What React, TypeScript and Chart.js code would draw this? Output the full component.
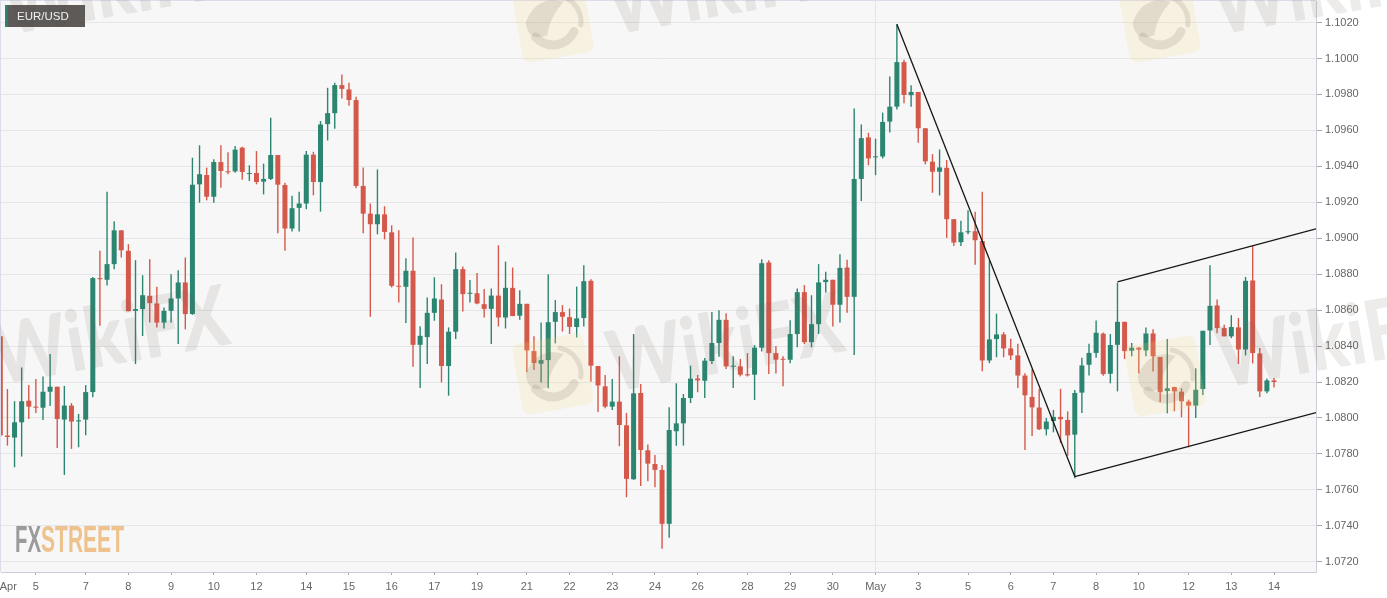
import React, { useEffect, useRef } from "react";
import { Chart, registerables } from "chart.js";

Chart.register(...registerables);

const opens = [
  1.08454,1.07902,1.07891,1.07976,1.08096,1.08063,1.08057,1.08146,1.08174,1.07991,
  1.08069,1.07981,1.07991,1.08144,1.08778,1.08769,1.08856,1.09044,1.08930,1.08596,
  1.08606,1.08680,1.08637,1.08531,1.08596,1.08665,1.08754,1.08578,1.09300,1.09352,
  1.09231,1.09424,1.09372,1.09372,1.09504,1.09357,1.09363,1.09315,1.09330,1.09463,
  1.09296,1.09054,1.09169,1.09193,1.09465,1.09313,1.09635,1.09696,1.09852,1.09828,
  1.09769,1.09291,1.09137,1.09078,1.09133,1.09033,1.08735,1.08730,1.08819,1.08407,
  1.08450,1.08585,1.08659,1.08289,1.08480,1.08828,1.08691,1.08694,1.08633,1.08607,
  1.08681,1.08559,1.08724,1.08569,1.08635,1.08372,1.08302,1.08322,1.08535,1.08589,
  1.08561,1.08506,1.08556,1.08763,1.08289,1.08176,1.08063,1.08091,1.07959,1.07659,
  1.08139,1.07820,1.07744,1.07711,1.07411,1.07926,1.07970,1.08111,1.08220,1.08207,
  1.08317,1.08417,1.08546,1.08285,1.08287,1.08243,1.08241,1.08391,1.08865,1.08361,
  1.08328,1.08324,1.08467,1.08700,1.08422,1.08522,1.08756,1.08769,1.08630,1.08837,
  1.08674,1.09330,1.09561,1.09450,1.09455,1.09649,1.09732,1.09980,1.09796,1.09814,
  1.09612,1.09426,1.09370,1.09392,1.09106,1.08978,1.09033,1.09039,1.08985,1.08320,
  1.08439,1.08465,1.08387,1.08348,1.08236,1.08117,1.08058,1.07937,1.07983,1.08006,
  1.07989,1.07907,1.08141,1.08296,1.08362,1.08469,1.08246,1.08407,1.08535,1.08374,
  1.08391,1.08376,1.08470,1.08339,1.08150,1.08172,1.08146,1.08091,1.08069,1.08161,
  1.08487,1.08626,1.08500,1.08454,1.08504,1.08381,1.08765,1.08359,1.08148,1.08209,
];

const closes = [
  1.07902,1.07894,1.07976,1.08093,1.08063,1.08057,1.08146,1.08174,1.07994,1.08069,
  1.07980,1.07987,1.08144,1.08778,1.08772,1.08856,1.09044,1.08933,1.08594,1.08606,
  1.08683,1.08639,1.08531,1.08596,1.08665,1.08754,1.08578,1.09298,1.09356,1.09231,
  1.09424,1.09374,1.09367,1.09493,1.09369,1.09361,1.09313,1.09330,1.09463,1.09298,
  1.09054,1.09167,1.09193,1.09465,1.09313,1.09633,1.09696,1.09852,1.09831,1.09769,
  1.09291,1.09137,1.09078,1.09133,1.09035,1.08735,1.08730,1.08819,1.08407,1.08457,
  1.08585,1.08665,1.08289,1.08480,1.08828,1.08689,1.08696,1.08637,1.08607,1.08681,
  1.08559,1.08724,1.08567,1.08635,1.08376,1.08306,1.08322,1.08533,1.08589,1.08563,
  1.08507,1.08554,1.08761,1.08291,1.08181,1.08063,1.08091,1.07961,1.07661,1.08137,
  1.07822,1.07746,1.07711,1.07411,1.07933,1.07970,1.08111,1.08219,1.08209,1.08319,
  1.08417,1.08546,1.08287,1.08291,1.08241,1.08237,1.08391,1.08861,1.08361,1.08324,
  1.08324,1.08467,1.08700,1.08422,1.08522,1.08754,1.08769,1.08630,1.08835,1.08674,
  1.09330,1.09557,1.09444,1.09455,1.09647,1.09732,1.09980,1.09797,1.09814,1.09612,
  1.09428,1.09370,1.09394,1.09106,1.08976,1.09033,1.09039,1.08989,1.08320,1.08437,
  1.08465,1.08387,1.08348,1.08236,1.08126,1.08059,1.07937,1.07980,1.08006,1.07993,
  1.07903,1.08139,1.08292,1.08362,1.08474,1.08244,1.08406,1.08535,1.08372,1.08391,
  1.08380,1.08470,1.08343,1.08143,1.08165,1.08148,1.08093,1.08069,1.08157,1.08485,
  1.08624,1.08500,1.08454,1.08506,1.08381,1.08763,1.08361,1.08148,1.08209,1.08200,
];

const highs = [
  1.08513,1.08161,1.08093,1.08281,1.08183,1.08217,1.08231,1.08356,1.08174,1.08178,
  1.08083,1.08022,1.08183,1.08785,1.08930,1.09259,1.09094,1.09044,1.08967,1.08878,
  1.08794,1.08883,1.08730,1.08615,1.08800,1.08822,1.08893,1.09448,1.09517,1.09393,
  1.09439,1.09517,1.09478,1.09513,1.09509,1.09406,1.09485,1.09415,1.09670,1.09463,
  1.09309,1.09237,1.09259,1.09485,1.09481,1.09652,1.09837,1.09865,1.09911,1.09865,
  1.09787,1.09393,1.09193,1.09383,1.09178,1.09072,1.09044,1.08889,1.09004,1.08511,
  1.08670,1.08783,1.08744,1.08504,1.08920,1.08843,1.08767,1.08806,1.08717,1.08720,
  1.08961,1.08870,1.08837,1.08711,1.08635,1.08454,1.08531,1.08800,1.08656,1.08628,
  1.08609,1.08731,1.08850,1.08772,1.08289,1.08239,1.08217,1.08343,1.08028,1.08467,
  1.08189,1.07852,1.07794,1.07739,1.08059,1.08193,1.08133,1.08291,1.08239,1.08333,
  1.08589,1.08600,1.08583,1.08343,1.08328,1.08361,1.08406,1.08883,1.08878,1.08400,
  1.08343,1.08544,1.08720,1.08739,1.08683,1.08856,1.08813,1.08769,1.08911,1.08881,
  1.09722,1.09633,1.09587,1.09554,1.09699,1.09900,1.10191,1.09993,1.09851,1.09814,
  1.09612,1.09468,1.09494,1.09435,1.09106,1.09097,1.09156,1.09147,1.09258,1.08877,
  1.08580,1.08478,1.08441,1.08413,1.08249,1.08273,1.08162,1.08000,1.08045,1.08162,
  1.08037,1.08156,1.08335,1.08413,1.08543,1.08476,1.08467,1.08752,1.08535,1.08417,
  1.08393,1.08504,1.08494,1.08339,1.08439,1.08174,1.08165,1.08102,1.08276,1.08485,
  1.08850,1.08659,1.08519,1.08572,1.08556,1.08785,1.08957,1.08389,1.08219,1.08222,
];

const lows = [
  1.07874,1.07846,1.07726,1.07785,1.07994,1.08028,1.07989,1.08067,1.07833,1.07683,
  1.07828,1.07837,1.07904,1.08115,1.08513,1.08737,1.08828,1.08893,1.08594,1.08300,
  1.08456,1.08531,1.08504,1.08498,1.08531,1.08411,1.08493,1.08574,1.09198,1.09211,
  1.09198,1.09281,1.09356,1.09365,1.09326,1.09319,1.09300,1.09244,1.09324,1.09028,
  1.08930,1.09037,1.09037,1.09161,1.09239,1.09148,1.09544,1.09609,1.09778,1.09737,
  1.09278,1.09028,1.08563,1.09022,1.08994,1.08726,1.08643,1.08528,1.08285,1.08167,
  1.08300,1.08541,1.08198,1.08124,1.08439,1.08593,1.08643,1.08633,1.08559,1.08411,
  1.08509,1.08498,1.08567,1.08546,1.08254,1.08267,1.08198,1.08165,1.08415,1.08481,
  1.08467,1.08448,1.08509,1.08202,1.08033,1.08054,1.08044,1.07843,1.07559,1.07656,
  1.07622,1.07648,1.07615,1.07272,1.07333,1.07846,1.07846,1.08083,1.08143,1.08111,
  1.08300,1.08341,1.08272,1.08167,1.08231,1.08231,1.08100,1.08370,1.08244,1.08248,
  1.08176,1.08304,1.08393,1.08411,1.08393,1.08467,1.08698,1.08509,1.08531,1.08585,
  1.08350,1.09207,1.09406,1.09351,1.09444,1.09589,1.09717,1.09751,1.09732,1.09532,
  1.09411,1.09253,1.09238,1.09002,1.08957,1.08957,1.09022,1.08853,1.08260,1.08305,
  1.08338,1.08338,1.08323,1.08167,1.07822,1.07900,1.07933,1.07903,1.07920,1.07861,
  1.07790,1.07665,1.08028,1.08236,1.08335,1.08235,1.08193,1.08148,1.08328,1.08344,
  1.08248,1.08344,1.08259,1.08087,1.08026,1.08037,1.08004,1.07837,1.08000,1.08128,
  1.08406,1.08472,1.08454,1.08444,1.08300,1.08348,1.08304,1.08117,1.08137,1.08170,
];

const tickLabels = ["Apr","5","7","8","9","10","12","14","15","16","17","19","21","22","23","24","26","28","29","30","May","3","5","6","7","8","10","12","13","14"];
const tickCandles = [1.13,5,12,18,24,30,36,43,49,55,61,67,74,80,86,92,98,105,111,117,123,129,136,142,148,154,160,167,173,179];
const priceTicks = [1.072,1.074,1.076,1.078,1.08,1.082,1.084,1.086,1.088,1.09,1.092,1.094,1.096,1.098,1.1,1.102];

const downTrend = [{ x: 126, y: 1.10191 }, { x: 151, y: 1.07674 }];
const channelLow = [{ x: 151, y: 1.07674 }, { x: 184.9, y: 1.0803 }];
const channelHigh = [{ x: 157, y: 1.08757 }, { x: 184.9, y: 1.09052 }];

const symbol = "EUR/USD";
const UP = "#2b8570";
const DOWN = "#d4594a";

const FONT = '"Liberation Sans", Arial, sans-serif';

function watermark(ctx: CanvasRenderingContext2D, x: number, y: number) {
  ctx.save();
  ctx.translate(x, y);
  ctx.rotate((-10 * Math.PI) / 180);
  ctx.font = `900 84px Lato, "Noto Sans", sans-serif`;
  ctx.fillStyle = "rgba(110,95,90,0.12)";
  ctx.textBaseline = "alphabetic";
  ctx.textAlign = "left";
  ctx.fillText("WikiFX", 0, 0, 238);
  ctx.restore();
}

function logoMark(ctx: CanvasRenderingContext2D, cx: number, cy: number) {
  ctx.save();
  ctx.translate(cx, cy);
  ctx.rotate((-10 * Math.PI) / 180);
  ctx.fillStyle = "rgba(250,215,120,0.18)";
  ctx.beginPath();
  ctx.roundRect(-36, -36, 72, 72, 8);
  ctx.fill();
  ctx.strokeStyle = "rgba(110,95,90,0.15)";
  ctx.lineCap = "round";
  ctx.lineWidth = 9;
  ctx.beginPath();
  ctx.arc(0, 0, 23, 0.6, 2.6);
  ctx.stroke();
  ctx.lineWidth = 5;
  ctx.beginPath();
  ctx.arc(2, 0, 26, -1.2, 0.3);
  ctx.stroke();
  ctx.fillStyle = "rgba(110,95,90,0.15)";
  ctx.beginPath();
  ctx.moveTo(-27, -4);
  ctx.quadraticCurveTo(-12, -30, 14, -18);
  ctx.quadraticCurveTo(-2, -6, -8, 12);
  ctx.quadraticCurveTo(-28, 16, -27, -4);
  ctx.fill();
  ctx.restore();
}

const decor = {
  id: "decor",
  beforeDraw(chart: any) {
    const { ctx, chartArea: a } = chart;
    ctx.save();
    ctx.fillStyle = "#f7f7f8";
    ctx.fillRect(a.left, a.top, a.right - a.left, a.bottom - a.top);
    ctx.fillStyle = "#dcdcec";
    ctx.fillRect(0, 0, 1387 - 71, 1);
    ctx.fillRect(0, 0, 1, a.bottom);
    ctx.restore();
  },
  afterDraw(chart: any) {
    const { ctx } = chart;
    ctx.save();
    logoMark(ctx, 553, 22);
    logoMark(ctx, 1160, 22);
    logoMark(ctx, 553, 374);
    logoMark(ctx, 1165, 376);
    watermark(ctx, 8, 35);
    watermark(ctx, 613, 35);
    watermark(ctx, 1218, 35);
    watermark(ctx, -2, 385);
    watermark(ctx, 613, 392);
    watermark(ctx, 1222, 388);

    ctx.fillStyle = "rgba(75,72,70,0.9)";
    ctx.fillRect(5, 5, 80, 22);
    ctx.fillStyle = UP;
    ctx.fillRect(5, 5, 2.5, 22);
    ctx.fillStyle = "#f2f2f2";
    ctx.font = `11.5px ${FONT}`;
    ctx.textAlign = "left";
    ctx.textBaseline = "middle";
    ctx.fillText(symbol, 17, 16.5);

    ctx.font = `bold 36px "Liberation Sans Narrow", ${FONT}`;
    ctx.textBaseline = "alphabetic";
    ctx.fillStyle = "#9b9b9d";
    ctx.fillText("FX", 15, 552, 26);
    ctx.fillStyle = "#eec28c";
    ctx.fillText("STREET", 41, 552, 83);
    ctx.restore();
  },
};

const noPadding = (s: any) => {
  s.paddingLeft = 0;
  s.paddingRight = 0;
  s.paddingTop = 0;
  s.paddingBottom = 0;
};

export default function App() {
  const ref = useRef<HTMLCanvasElement | null>(null);

  useEffect(() => {
    const isUp = (i: number) => closes[i] >= opens[i];
    const color = (c: any) => (isUp(c.dataIndex) ? UP : DOWN);
    const lineSet = (data: any[]) => ({
      type: "line",
      data,
      borderColor: "#161616",
      borderWidth: 1.3,
      pointRadius: 0,
      order: 0,
      parsing: false,
    });
    const chart = new Chart(ref.current as HTMLCanvasElement, {
      type: "bar",
      data: {
        datasets: [
          {
            data: opens.map((_, i) => ({ x: i, y: [lows[i], highs[i]] })),
            backgroundColor: color,
            barThickness: 1.4,
            inflateAmount: 0,
            grouped: false,
            order: 3,
          },
          {
            data: opens.map((o, i) => ({ x: i, y: [o, closes[i]] })),
            backgroundColor: color,
            barThickness: 5,
            minBarLength: 1,
            inflateAmount: 0,
            grouped: false,
            order: 2,
          },
          lineSet(downTrend),
          lineSet(channelLow),
          lineSet(channelHigh),
        ] as any,
      },
      options: {
        animation: false,
        responsive: false,
        devicePixelRatio: 1,
        layout: { autoPadding: false, padding: { top: 1, left: 1, right: 0, bottom: 0 } },
        plugins: { legend: { display: false }, tooltip: { enabled: false }, title: { display: false } },
        scales: {
          x: {
            type: "linear",
            offset: false,
            min: 0.098,
            max: 184.9,
            afterFit(s: any) { s.height = 26; noPadding(s); },
            afterBuildTicks(s: any) { s.ticks = tickCandles.map((value) => ({ value })); },
            ticks: {
              autoSkip: false,
              maxRotation: 0,
              minRotation: 0,
              padding: 5,
              color: "#666666",
              font: { family: FONT, size: 11 },
              callback(_v: any, i: number) { return tickLabels[i]; },
            },
            grid: {
              offset: false,
              drawOnChartArea: true,
              tickLength: 3,
              color: (c: any) => (tickLabels[c.index] === "May" ? "#e4e4e6" : "rgba(0,0,0,0)"),
              tickColor: (c: any) => (c.index === 0 ? "rgba(0,0,0,0)" : "#a8a8b4"),
            },
            border: { display: true, color: "#ccccd8", width: 1 },
          },
          y: {
            type: "linear",
            position: "right",
            min: 1.07143,
            max: 1.1032,
            afterFit(s: any) { s.width = 71; noPadding(s); },
            afterBuildTicks(s: any) { s.ticks = priceTicks.map((value) => ({ value })); },
            ticks: {
              padding: 3,
              color: "#666666",
              font: { family: FONT, size: 11 },
              callback(v: any) { return Number(v).toFixed(4); },
            },
            grid: { color: "#e6e6e8", tickColor: "#a8a8a8", tickLength: 6, lineWidth: 1 },
            border: { display: true, color: "#ccccd8", width: 1 },
          },
        },
      } as any,
      plugins: [decor] as any,
    });
    return () => chart.destroy();
  }, []);

  return (
    <div style={{ position: "fixed", left: 0, top: 0, width: 1387, height: 598, background: "#ffffff" }}>
      <canvas ref={ref} width={1387} height={598} style={{ display: "block", width: 1387, height: 598 }} />
    </div>
  );
}
